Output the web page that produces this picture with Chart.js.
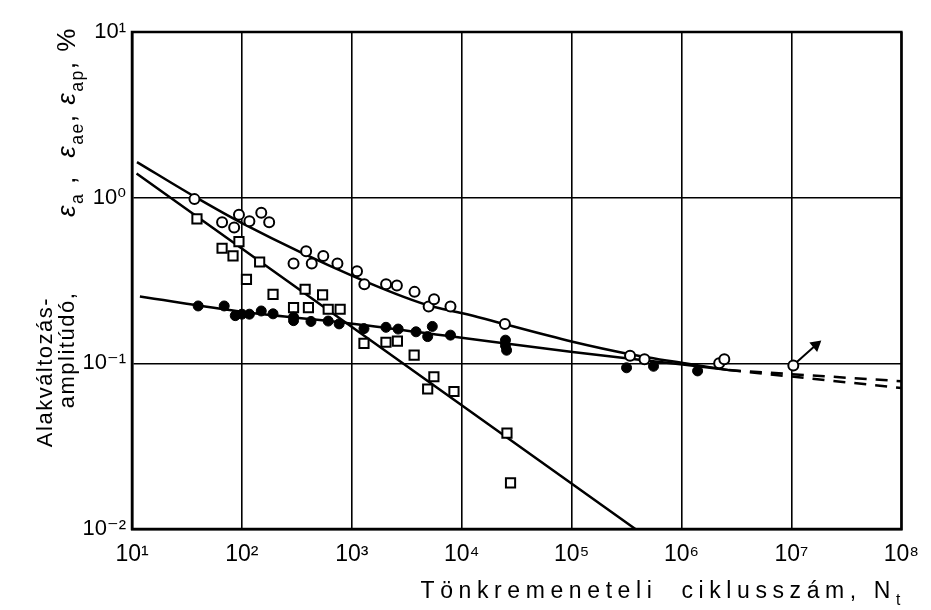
<!DOCTYPE html>
<html><head><meta charset="utf-8">
<script src="https://cdn.jsdelivr.net/npm/chart.js@4.4.0/dist/chart.umd.min.js"></script>
<style>html,body{margin:0;padding:0;background:#fff;}#wrap{width:931px;height:610px;}</style>
</head><body><div id="wrap"><canvas id="c" width="931" height="610"></canvas></div>
<script>
// ---- tick labels ----
const xTickValues = [1e1, 1e2, 1e3, 1e4, 1e5, 1e6, 1e7, 1e8];
const xTickLabels = ['10¹', '10²', '10³', '10⁴', '10⁵', '10⁶', '10⁷', '10⁸'];
const yTickValues = [1e-2, 1e-1, 1, 10];
const yTickLabels = ['10⁻²', '10⁻¹', '10⁰', '10¹'];

// ---- total strain amplitude (open circles) ----
const totalN = [37, 66, 85, 94, 117, 150, 177, 295, 384, 432, 550, 740, 1115, 1300, 2050, 2570, 3720, 5000, 5600, 7900, 24700, 340000, 460000, 2200000, 2450000, 10400000];
const totalE = [0.98, 0.71, 0.66, 0.79, 0.72, 0.81, 0.71, 0.40, 0.475, 0.40, 0.445, 0.40, 0.36, 0.30, 0.30, 0.295, 0.27, 0.22, 0.244, 0.22, 0.173, 0.111, 0.106, 0.10, 0.106, 0.097];

// ---- elastic strain amplitude (filled circles) ----
const elasticN = [40, 69, 87, 100, 117, 150, 192, 295, 295, 425, 610, 767, 1290, 2045, 2640, 3840, 4900, 5400, 7900, 25000, 25000, 25600, 316000, 556000, 1400000];
const elasticE = [0.222, 0.222, 0.194, 0.198, 0.198, 0.207, 0.199, 0.19, 0.181, 0.179, 0.18, 0.173, 0.162, 0.165, 0.161, 0.155, 0.145, 0.167, 0.148, 0.138, 0.128, 0.12, 0.094, 0.096, 0.090];

// ---- plastic strain amplitude (open squares) ----
const plasticN = [39, 66, 83, 94, 110, 145, 192, 295, 376, 403, 542, 610, 783, 1290, 2045, 2600, 3690, 4900, 5580, 8500, 25800, 27800];
const plasticE = [0.745, 0.495, 0.445, 0.543, 0.321, 0.409, 0.261, 0.217, 0.28, 0.217, 0.259, 0.212, 0.212, 0.132, 0.134, 0.136, 0.112, 0.070, 0.083, 0.0676, 0.0379, 0.019];

// ---- fitted curves ----
const totalFitN = [11.1, 37.5, 101, 1062, 4860, 10400, 102000, 330000, 1070000, 2700000];
const totalFitE = [1.64, 1.01, 0.70, 0.333, 0.225, 0.200, 0.135, 0.114, 0.100, 0.091];
const totalDashN = [2700000, 100000000];
const totalDashE = [0.091, 0.078];
const elasticFitN = [11.8, 101, 1060, 10400, 102000, 1070000, 2700000];
const elasticFitE = [0.253, 0.205, 0.173, 0.142, 0.117, 0.098, 0.091];
const elasticDashN = [2700000, 100000000];
const elasticDashE = [0.091, 0.071];
const plasticFitN = [11, 380000];
const plasticFitE = [1.40, 0.01];
const arrowN = [11200000, 16700000];
const arrowE = [0.102, 0.129];

const pts = (xs, ys) => xs.map((x, i) => ({x: x, y: ys[i]}));
const FONT = "'Liberation Sans Narrow','Liberation Sans','DejaVu Sans',sans-serif";

function drawRuns(ctx, runs, x, y, size, align) {
  let w = 0;
  const m = runs.map(r => {
    const s = r.sub ? size * 0.68 : size;
    ctx.font = (r.italic ? 'italic ' : '') + s + 'px ' + FONT;
    const ww = ctx.measureText(r.t).width;
    w += ww;
    return {r: r, s: s, w: ww};
  });
  let cx = align === 'right' ? x - w : (align === 'center' ? x - w / 2 : x);
  m.forEach(o => {
    ctx.font = (o.r.italic ? 'italic ' : '') + o.s + 'px ' + FONT;
    ctx.fillText(o.r.t, cx, y + (o.r.sub ? size * 0.3 : 0));
    cx += o.w;
  });
}

const titlePlugin = {
  id: 'titles',
  afterDraw(chart) {
    const ctx = chart.ctx;
    ctx.save();
    ctx.fillStyle = '#000';
    ctx.textBaseline = 'alphabetic';
    ctx.textAlign = 'left';
    ctx.letterSpacing = '5.6px';
    drawRuns(ctx, [{t: 'Tönkremeneteli  ciklusszám, N'}, {t: 't', sub: true}], 906, 598, 23, 'right');
    // y title (rotated)
    ctx.letterSpacing = '1.5px';
    ctx.save();
    ctx.translate(52, 372);
    ctx.rotate(-Math.PI / 2);
    drawRuns(ctx, [{t: 'Alakváltozás-'}], 0, 0, 22, 'center');
    ctx.restore();
    ctx.save();
    ctx.translate(74, 350);
    ctx.rotate(-Math.PI / 2);
    drawRuns(ctx, [{t: 'amplitúdó,'}], 0, 0, 22, 'center');
    ctx.restore();
    ctx.save();
    ctx.letterSpacing = '1.5px';
    ctx.translate(75, 122);
    ctx.rotate(-Math.PI / 2);
    drawRuns(ctx, [{t: 'ε', italic: true}, {t: 'a', sub: true}, {t: ' ,  '}, {t: 'ε', italic: true}, {t: 'ae', sub: true}, {t: ', '}, {t: 'ε', italic: true}, {t: 'ap', sub: true}, {t: ', %'}], 0, 0, 26, 'center');
    ctx.restore();
    ctx.restore();
  }
};

const lineDs = (data, dash) => ({
  type: 'line', data: data, borderColor: '#000', borderWidth: 2.5, pointRadius: 0,
  borderDash: dash || [], fill: false, cubicInterpolationMode: 'monotone', tension: 0.4, order: 2
});

new Chart(document.getElementById('c'), {
  type: 'scatter',
  data: {
    datasets: [
      lineDs(pts(totalFitN, totalFitE)),
      lineDs(pts(totalDashN, totalDashE), [12, 9]),
      lineDs(pts(elasticFitN, elasticFitE)),
      lineDs(pts(elasticDashN, elasticDashE), [12, 9]),
      lineDs(pts(plasticFitN, plasticFitE)),
      {type: 'line', data: pts(arrowN, arrowE), borderColor: '#000', borderWidth: 2,
       pointRadius: [0, 5], pointStyle: 'triangle', rotation: 50, pointBackgroundColor: '#000', pointBorderColor: '#000', order: 1},
      {label: 'total', data: pts(totalN, totalE), pointStyle: 'circle', pointRadius: 5, borderWidth: 2,
       borderColor: '#000', backgroundColor: '#fff', order: 0},
      {label: 'elastic', data: pts(elasticN, elasticE), pointStyle: 'circle', pointRadius: 5, borderWidth: 1,
       borderColor: '#000', backgroundColor: '#000', order: 0},
      {label: 'plastic', data: pts(plasticN, plasticE), pointStyle: 'rect', pointRadius: 6.5, borderWidth: 2,
       borderColor: '#000', backgroundColor: '#fff', order: 0}
    ]
  },
  options: {
    responsive: false, animation: false, devicePixelRatio: 1,
    layout: {padding: {top: 32, right: 23, left: 0, bottom: 0}},
    plugins: {legend: {display: false}, tooltip: {enabled: false}},
    scales: {
      x: {
        type: 'logarithmic', min: 10, max: 1e8,
        afterBuildTicks: s => { s.ticks = xTickValues.map(v => ({value: v})); },
        afterFit: s => { s.height = 81; },
        ticks: {callback: v => xTickLabels[xTickValues.indexOf(v)], color: '#000', font: {family: FONT, size: 23}, padding: 12, maxRotation: 0, autoSkip: false},
        grid: {color: '#000', lineWidth: 1.6, drawTicks: false},
        border: {color: '#000', width: 2.5}
      },
      y: {
        type: 'logarithmic', min: 0.01, max: 10,
        afterBuildTicks: s => { s.ticks = yTickValues.map(v => ({value: v})); },
        afterFit: s => { s.width = 132; },
        ticks: {callback: v => yTickLabels[yTickValues.indexOf(v)], color: '#000', font: {family: FONT, size: 22}, padding: 6, autoSkip: false},
        grid: {color: '#000', lineWidth: 1.6, drawTicks: false},
        border: {color: '#000', width: 2.5}
      }
    }
  },
  plugins: [titlePlugin, {
    id: 'frame',
    afterDatasetsDraw(chart) {
      const a = chart.chartArea, ctx = chart.ctx;
      ctx.save(); ctx.strokeStyle = '#000'; ctx.lineWidth = 2.5;
      ctx.strokeRect(a.left, a.top, a.right - a.left, a.bottom - a.top);
      ctx.restore();
    }
  }]
});
</script></body></html>
